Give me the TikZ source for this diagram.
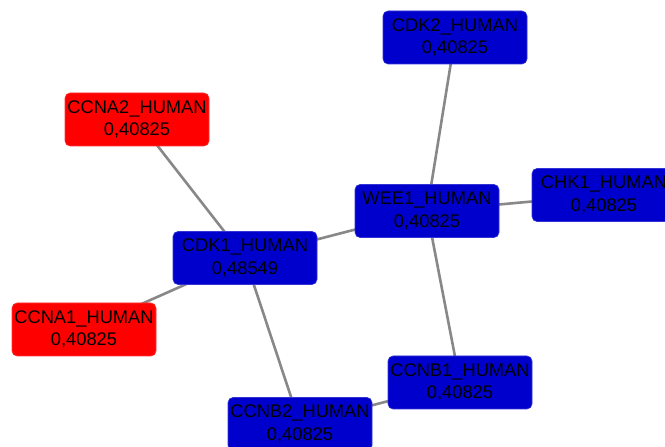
\documentclass[tikz,border=0pt]{standalone}
\usepackage{fontspec}
\setmainfont{Liberation Sans}
\usetikzlibrary{backgrounds}
\definecolor{nblue}{RGB}{0,0,204}
\definecolor{nred}{RGB}{255,0,0}
\definecolor{edgegray}{RGB}{136,136,136}
\begin{document}
\begin{tikzpicture}[x=1pt,y=1pt,
  prot/.style={rectangle, rounded corners=5pt, minimum width=144pt, minimum height=53pt,
    inner sep=0pt, align=center, font=\fontsize{18.3}{22.5}\selectfont, text=black},
  bluen/.style={prot, fill=nblue, draw=nblue!80!white, line width=0.6pt},
  redn/.style={prot, fill=nred, draw=nred!80!white, line width=0.6pt},
  edge/.style={draw=edgegray, line width=2.6pt}]
\useasboundingbox (0,0) rectangle (665,447);
\node[bluen] (cdk2) at (455,409.5) {CDK2\_HUMAN\\0,40825};
\node[redn] (ccna2) at (137,327.5) {CCNA2\_HUMAN\\0,40825};
\node[bluen] (wee1) at (427,236) {WEE1\_HUMAN\\0,40825};
\node[bluen] (chk1) at (604,252) {CHK1\_HUMAN\\0,40825};
\node[bluen] (cdk1) at (245,189) {CDK1\_HUMAN\\0,48549};
\node[redn] (ccna1) at (84,117.5) {CCNA1\_HUMAN\\0,40825};
\node[bluen] (ccnb1) at (460,64.5) {CCNB1\_HUMAN\\0,40825};
\node[bluen] (ccnb2) at (300,23) {CCNB2\_HUMAN\\0,40825};
\begin{scope}[on background layer]
\draw[edge] (ccna2.center) -- (cdk1.center);
\draw[edge] (ccna1.center) -- (cdk1.center);
\draw[edge] (cdk1.center) -- (wee1.center);
\draw[edge] (cdk1.center) -- (ccnb2.center);
\draw[edge] (cdk2.center) -- (wee1.center);
\draw[edge] (chk1.center) -- (wee1.center);
\draw[edge] (wee1.center) -- (ccnb1.center);
\draw[edge] (ccnb1.center) -- (ccnb2.center);
\end{scope}
\end{tikzpicture}
\end{document}
